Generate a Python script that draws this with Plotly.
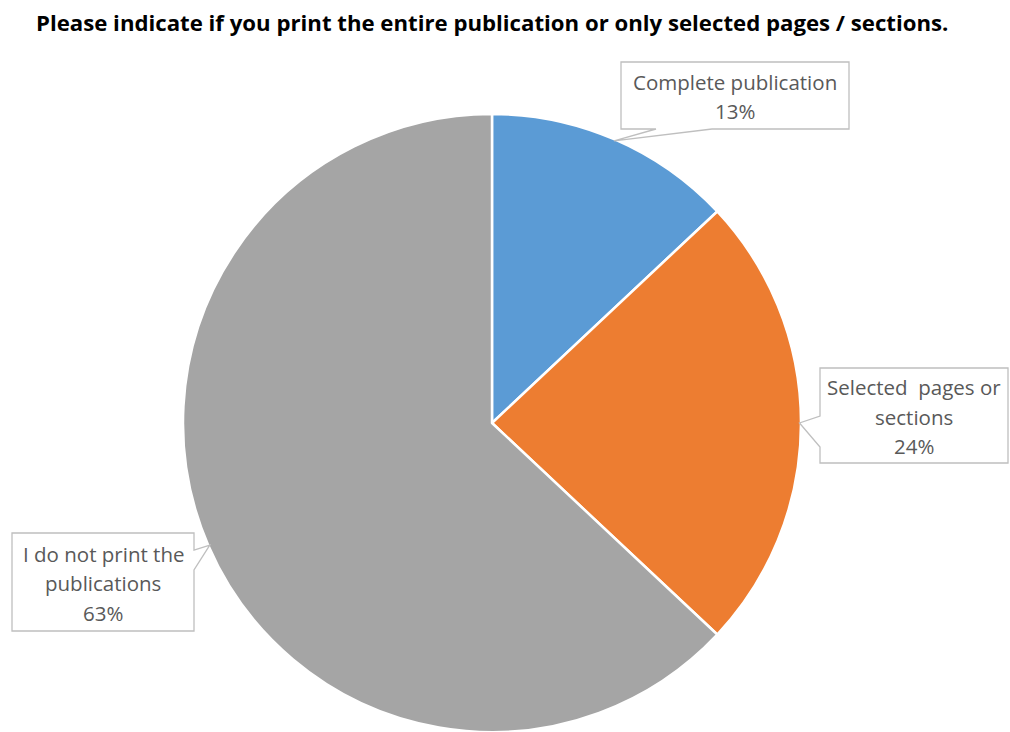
import math
import plotly.graph_objects as go

# Survey answers and their shares (%)
categories = ["Complete publication", "Selected pages or sections", "I do not print the publications"]
shares = [13, 24, 63]
colors = ["#5B9BD5", "#ED7D31", "#A5A5A5"]

# Wrapped callout text for each answer
label_lines = [
    ["Complete publication"],
    ["Selected  pages or", "sections"],
    ["I do not print the", "publications"],
]

W, H = 1010, 732
title = "Please indicate if you print the entire publication or only selected pages / sections."

# Pie placement (pixels)
pie_left, pie_right, pie_top, pie_bottom = 182, 802, 114, 732
cx = (pie_left + pie_right) / 2
cy = (pie_top + pie_bottom) / 2
radius = min(pie_right - pie_left, pie_bottom - pie_top) / 2 - 1.5

# Callout boxes (pixels): left, top, right, bottom, edge carrying the pointer, pointer base span
boxes = [
    dict(rect=(621, 62, 849, 129), edge="bottom", base=(656, 712)),
    dict(rect=(820, 368, 1008, 463), edge="left", base=(416, 447)),
    dict(rect=(12, 533, 194, 631), edge="right", base=(550, 570)),
]


def px(x):
    return x / W


def py(y):
    return 1 - y / H


def callout_path(rect, edge, base, tip):
    l, t, r, b = rect
    tx, ty = tip
    pts = [(l, t), (r, t)]
    if edge == "right":
        pts += [(r, base[0]), (tx, ty), (r, base[1])]
    pts += [(r, b)]
    if edge == "bottom":
        pts += [(base[1], b), (tx, ty), (base[0], b)]
    pts += [(l, b)]
    if edge == "left":
        pts += [(l, base[1]), (tx, ty), (l, base[0])]
    return "M " + " L ".join(f"{px(x):.5f},{py(y):.5f}" for x, y in pts) + " Z"


fig = go.Figure(
    go.Pie(
        labels=categories,
        values=shares,
        marker=dict(colors=colors, line=dict(color="white", width=2.5)),
        sort=False,
        direction="clockwise",
        rotation=0,
        textinfo="none",
        hoverinfo="label+percent",
        showlegend=False,
        domain=dict(x=[px(pie_left), px(pie_right)], y=[py(pie_bottom), py(pie_top)]),
    )
)

shapes = []
annotations = [
    dict(
        text=f"<b>{title}</b>",
        x=px(492), y=py(22), xref="paper", yref="paper",
        showarrow=False, xanchor="center", yanchor="middle",
        font=dict(family="Open Sans", size=22.2, color="#000000"),
    )
]

total = sum(shares)
start = 0.0
line_gap = 29.5
for value, lines, box in zip(shares, label_lines, boxes):
    frac = value / total
    mid = (start + frac / 2) * 2 * math.pi
    start += frac
    tip = (cx + radius * math.sin(mid), cy - radius * math.cos(mid))
    shapes.append(
        dict(
            type="path", xref="paper", yref="paper",
            path=callout_path(box["rect"], box["edge"], box["base"], tip),
            line=dict(color="#BFBFBF", width=1.3),
            fillcolor="white",
            layer="above",
        )
    )
    l, t, r, b = box["rect"]
    text_lines = lines + [f"{value}%"]
    n = len(text_lines)
    center_y = (t + b) / 2 + 1
    for i, s in enumerate(text_lines):
        yy = center_y + (i - (n - 1) / 2) * line_gap
        annotations.append(
            dict(
                text=s, x=px((l + r) / 2), y=py(yy), xref="paper", yref="paper",
                showarrow=False, xanchor="center", yanchor="middle",
                font=dict(family="Open Sans", size=20.5, color="#595959"),
            )
        )

fig.update_layout(
    width=W, height=H,
    margin=dict(l=0, r=0, t=0, b=0),
    paper_bgcolor="white",
    plot_bgcolor="white",
    shapes=shapes,
    annotations=annotations,
)

fig.write_html("out.html")
